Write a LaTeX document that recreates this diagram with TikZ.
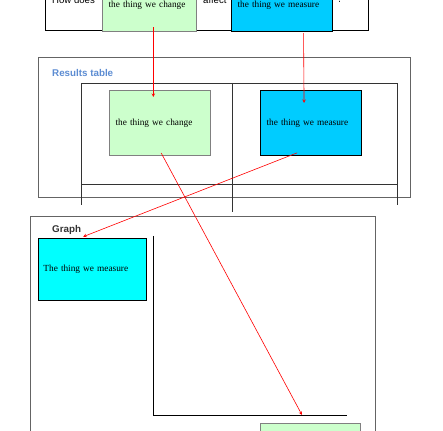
\documentclass[tikz,border=0pt]{standalone}
\usepackage{fontspec}
\setmainfont{Liberation Serif}
\setsansfont{Liberation Sans}
\usetikzlibrary{arrows,positioning}
\definecolor{changegreen}{RGB}{204,255,204}
\definecolor{measureblue}{RGB}{0,204,255}
\definecolor{measurecyan}{RGB}{0,255,255}
\definecolor{titleblue}{RGB}{92,140,210}
\definecolor{framegray}{RGB}{100,100,100}

\begin{document}
\begin{tikzpicture}[
    x=1pt, y=1pt,
    thingbox/.style={draw, rectangle, inner xsep=6pt, inner ysep=0pt, align=left, anchor=north west, font=\fontsize{9.3}{11}\selectfont},
    changebox/.style={thingbox, fill=changegreen, draw=gray, line width=1.1pt},
    measurebox/.style={thingbox, fill=measureblue, draw=black, line width=1.1pt},
    framebox/.style={draw=framegray, line width=0.9pt},
    tableline/.style={draw=black!80, line width=0.8pt},
    question/.style={font=\sffamily\fontsize{9.6}{11}\selectfont, inner sep=0pt, anchor=base west},
    heading/.style={font=\sffamily\bfseries\fontsize{9.8}{11}\selectfont, inner sep=0pt, anchor=base west},
    redarrow/.style={->, >=stealth, red, line width=0.6pt},
]
    \useasboundingbox (0,0) rectangle (443,430);

    % Question
    \draw [black, line width=0.9pt] (45,460) rectangle (368,400);
    \node [question] (howdoes) at (52,426) {How does};
    \node [changebox, text width=82pt, minimum height=52pt] (q_change) at (102,451) {the thing we change};
    \node [question] (affect) at (203,426) {affect};
    \node [measurebox, text width=89pt, minimum height=52pt] (q_measure) at (231,451) {the thing we measure};
    \node [question] (qmark) at (337,427) {?};

    % Results table
    \draw [framebox] (38,373) rectangle (410,233);
    \node [heading, text=titleblue] (restitle) at (52,353) {Results table};
    \draw [tableline] (81,225) -- (81,347) -- (397,347) -- (397,225);
    \draw [tableline] (81,246) -- (397,246);
    \draw [tableline] (232,347) -- (232,218);
    \node [changebox, text width=89pt, minimum height=65pt] (r_change) at (109,340) {the thing we change};
    \node [measurebox, text width=89pt, minimum height=65pt] (r_measure) at (260,340) {the thing we measure};

    % Graph
    \draw [framebox] (30,-10) -- (30,214) -- (375,214) -- (375,-10);
    \node [heading, text=black!80] (graphtitle) at (52,197) {Graph};
    \node [thingbox, fill=measurecyan, line width=0.9pt, inner xsep=5pt, text width=98pt, minimum height=62pt] (g_measure) at (38,192) {The thing we measure};
    \coordinate (origin) at (153,15);
    \coordinate (yaxis_top) at (153,194);
    \coordinate (xaxis_end) at (347,15);
    \coordinate (xmark) at (302,15);
    \draw [black, line width=0.9pt] (yaxis_top) -- (origin) -- (xaxis_end);
    \node [changebox, text width=88pt, minimum height=30pt] (g_change) at (260,7) {};

    % Arrows
    \draw [redarrow] ([xshift=3.7pt,yshift=5pt]q_change.south) -- ([xshift=-6.8pt,yshift=-7pt]r_change.north);
    \draw [redarrow] ([xshift=21.5pt,yshift=-1pt]q_measure.south) -- ([xshift=-7pt,yshift=-13pt]r_measure.north);
    \draw [redarrow] ([xshift=1.2pt,yshift=3pt]r_change.south) -- (xmark);
    \draw [redarrow] ([xshift=-13.8pt,yshift=3.3pt]r_measure.south) -- ([xshift=-9.3pt,yshift=1.3pt]g_measure.north);

\end{tikzpicture}
\end{document}
